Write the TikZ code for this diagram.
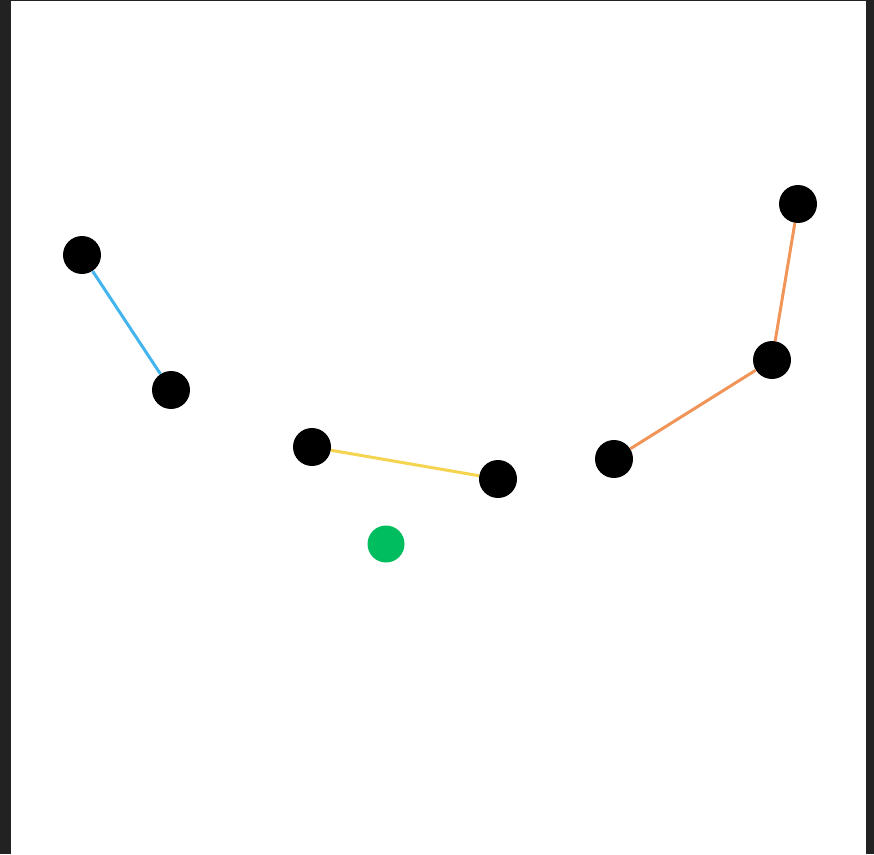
\documentclass[tikz,border=0pt]{standalone}
\usepackage{tikz}
\definecolor{framegray}{RGB}{34, 34, 34}
\definecolor{linkblue}{RGB}{66, 180, 238}
\definecolor{linkyellow}{RGB}{245, 212, 80}
\definecolor{linkorange}{RGB}{240, 148, 88}
\definecolor{pointgreen}{RGB}{0, 190, 95}

\begin{document}
\begin{tikzpicture}[x=0.02cm, y=-0.02cm,
  joint/.style={circle, fill=black, inner sep=0pt, minimum size=0.76cm},
  target/.style={circle, fill=pointgreen, inner sep=0pt, minimum size=0.74cm},
  link/.style={line width=1.7pt}]
\fill[framegray] (0,0) rectangle (874,854);
\fill[white] (11,1) rectangle (866,854);
\useasboundingbox (0,0) rectangle (874,854);
% joints
\node[joint] (a1) at (82,255) {};
\node[joint] (a2) at (171,390) {};
\node[joint] (b1) at (312,447) {};
\node[joint] (b2) at (498,479) {};
\node[joint] (c1) at (614,459) {};
\node[joint] (c2) at (772,360) {};
\node[joint] (c3) at (798,204) {};
\node[target] (goal) at (386,544) {};
% links
\draw[link, linkblue] (a1)--(a2);
\draw[link, linkyellow] (b1)--(b2);
\draw[link, linkorange] (c1)--(c2);
\draw[link, linkorange] (c2)--(c3);
\end{tikzpicture}
\end{document}
